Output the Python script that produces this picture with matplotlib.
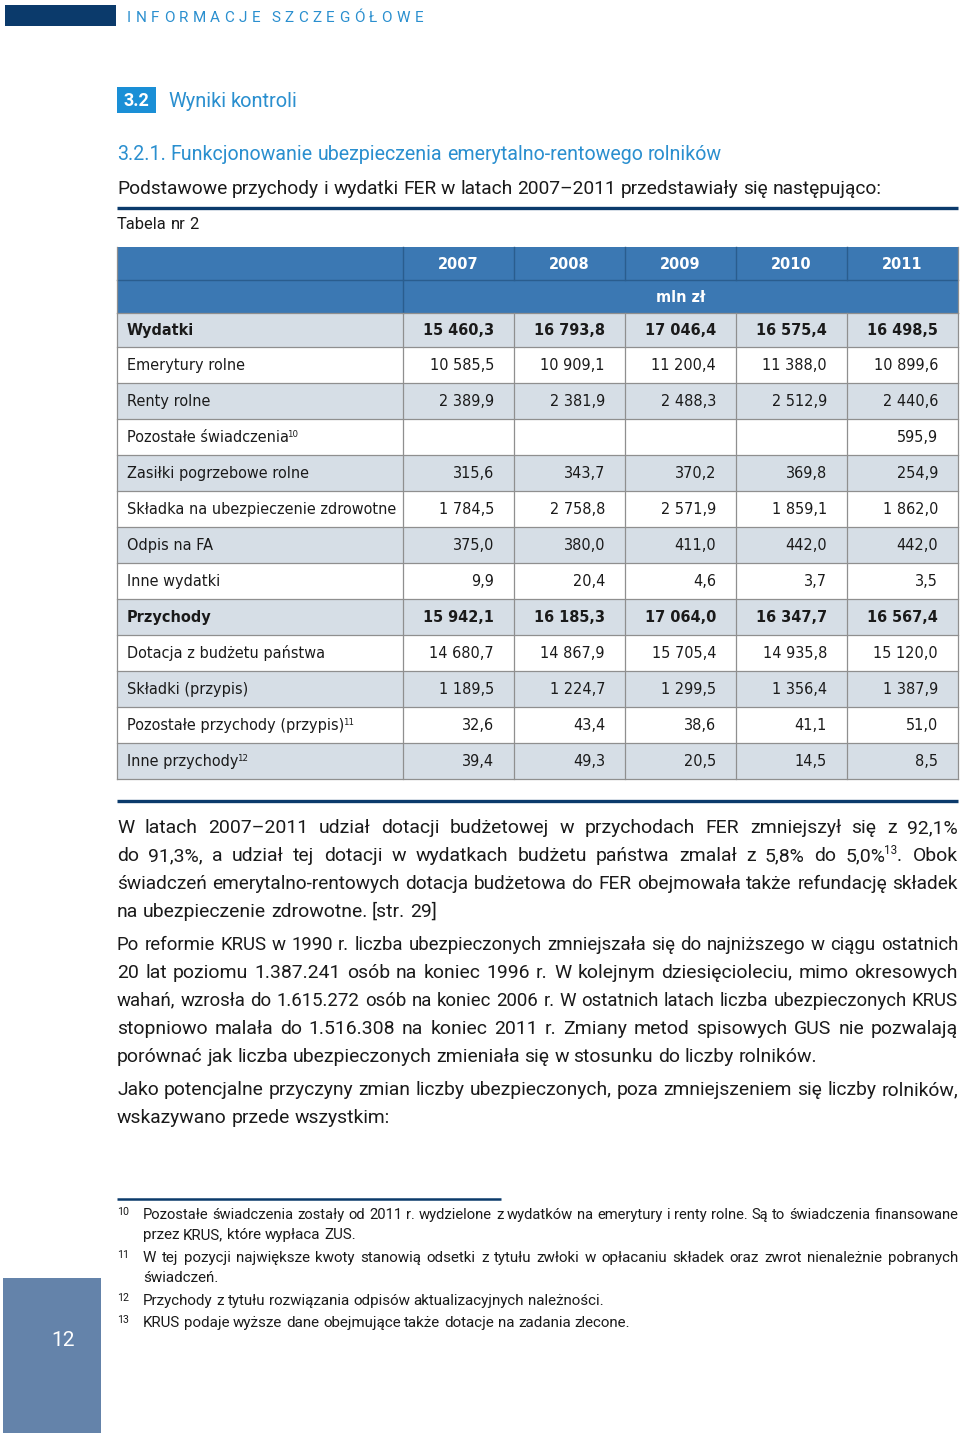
import matplotlib
matplotlib.use("Agg")
import matplotlib.pyplot as plt
from matplotlib.patches import Rectangle
import re

# ---------------- data ----------------
years = ["2007", "2008", "2009", "2010", "2011"]
unit_label = "mln zł"
row_labels = ["Wydatki", "Emerytury rolne", "Renty rolne", "Pozostałe świadczenia^{10}",
              "Zasiłki pogrzebowe rolne", "Składka na ubezpieczenie zdrowotne", "Odpis na FA",
              "Inne wydatki", "Przychody", "Dotacja z budżetu państwa", "Składki (przypis)",
              "Pozostałe przychody (przypis)^{11}", "Inne przychody^{12}"]
row_bold = [True, False, False, False, False, False, False, False, True, False, False, False, False]
wydatki = [15460.3, 16793.8, 17046.4, 16575.4, 16498.5]
emerytury_rolne = [10585.5, 10909.1, 11200.4, 11388.0, 10899.6]
renty_rolne = [2389.9, 2381.9, 2488.3, 2512.9, 2440.6]
pozostale_swiadczenia = [None, None, None, None, 595.9]
zasilki_pogrzebowe = [315.6, 343.7, 370.2, 369.8, 254.9]
skladka_zdrowotna = [1784.5, 2758.8, 2571.9, 1859.1, 1862.0]
odpis_fa = [375.0, 380.0, 411.0, 442.0, 442.0]
inne_wydatki = [9.9, 20.4, 4.6, 3.7, 3.5]
przychody = [15942.1, 16185.3, 17064.0, 16347.7, 16567.4]
dotacja = [14680.7, 14867.9, 15705.4, 14935.8, 15120.0]
skladki_przypis = [1189.5, 1224.7, 1299.5, 1356.4, 1387.9]
pozostale_przychody = [32.6, 43.4, 38.6, 41.1, 51.0]
inne_przychody = [39.4, 49.3, 20.5, 14.5, 8.5]
table_values = [wydatki, emerytury_rolne, renty_rolne, pozostale_swiadczenia, zasilki_pogrzebowe,
                skladka_zdrowotna, odpis_fa, inne_wydatki, przychody, dotacja, skladki_przypis,
                pozostale_przychody, inne_przychody]

header_tag = "INFORMACJE SZCZEGÓŁOWE"
section_no = "3.2"
section_title = "Wyniki kontroli"
subsection_title = "3.2.1. Funkcjonowanie ubezpieczenia emerytalno-rentowego rolników"
intro_line = "Podstawowe przychody i wydatki FER w latach 2007–2011 przedstawiały się następująco:"
table_caption = "Tabela nr 2"
paragraphs = [
    ["W latach 2007–2011 udział dotacji budżetowej w przychodach FER zmniejszył się z 92,1%",
     "do 91,3%, a udział tej dotacji w wydatkach budżetu państwa zmalał z 5,8% do 5,0%^{13}. Obok",
     "świadczeń emerytalno-rentowych dotacja budżetowa do FER obejmowała także refundację składek",
     "na ubezpieczenie zdrowotne. [str. 29]"],
    ["Po reformie KRUS w 1990 r. liczba ubezpieczonych zmniejszała się do najniższego w ciągu ostatnich",
     "20 lat poziomu 1.387.241 osób na koniec 1996 r. W kolejnym dziesięcioleciu, mimo okresowych",
     "wahań, wzrosła do 1.615.272 osób na koniec 2006 r. W ostatnich latach liczba ubezpieczonych KRUS",
     "stopniowo malała do 1.516.308 na koniec 2011 r. Zmiany metod spisowych GUS nie pozwalają",
     "porównać jak liczba ubezpieczonych zmieniała się w stosunku do liczby rolników."],
    ["Jako potencjalne przyczyny zmian liczby ubezpieczonych, poza zmniejszeniem się liczby rolników,",
     "wskazywano przede wszystkim:"],
]
footnote_nums = ["10", "11", "12", "13"]
footnotes = [
    ["Pozostałe świadczenia zostały od 2011 r. wydzielone z wydatków na emerytury i renty rolne. Są to świadczenia finansowane",
     "przez KRUS, które wypłaca ZUS."],
    ["W tej pozycji największe kwoty stanowią odsetki z tytułu zwłoki w opłacaniu składek oraz zwrot nienależnie pobranych",
     "świadczeń."],
    ["Przychody z tytułu rozwiązania odpisów aktualizacyjnych należności."],
    ["KRUS podaje wyższe dane obejmujące także dotacje na zadania zlecone."],
]
page_number = "12"

# ---------------- styles ----------------
NAVY = "#0b3a6b"
LIGHTBLUE = "#2a8fcf"
HEAD_BLUE = "#3b78b3"
ROW_GRAY = "#d6dee6"
GRID = "#8f8f8f"
TEXT = "#1a1a1a"
BODY_FONT = "Roboto"
TABLE_FONT = "DejaVu Sans"

W, H = 960, 1433
fig = plt.figure(figsize=(9.6, 14.33), dpi=100)
ax = fig.add_axes([0, 0, 1, 1])
ax.set_xlim(0, W)
ax.set_ylim(H, 0)
ax.axis("off")
renderer = fig.canvas.get_renderer()
PX = 100 / 72.0


def tw(s, size, family, weight="normal"):
    t = ax.text(0, 0, s, fontsize=size, family=family, weight=weight)
    w = t.get_window_extent(renderer).width
    t.remove()
    return w


def fit(s, target, family, weight="normal"):
    return 10.0 * target / tw(s, 10.0, family, weight)


def parse(word):
    parts = []
    for seg in re.split(r"(\^\{[^}]*\})", word):
        if not seg:
            continue
        if seg.startswith("^{"):
            parts.append((seg[2:-1], True))
        else:
            parts.append((seg, False))
    return parts


def plain(s):
    return re.sub(r"\^\{([^}]*)\}", r"\1", s)


def parts_width(parts, size, family, weight):
    return sum(tw(p, size * (0.6 if sup else 1.0), family, weight) for p, sup in parts)


def draw_parts(x, yb, parts, size, family, weight, color):
    for p, sup in parts:
        s = size * (0.6 if sup else 1.0)
        dy = -0.38 * size * PX if sup else 0
        xs = x - 1.5 if sup else x
        ax.text(xs, yb + dy, p, fontsize=s, family=family, weight=weight, color=color,
                ha="left", va="baseline")
        x += tw(p, s, family, weight) - (1.5 if sup else 0)
    return x


def draw_line(x0, x1, yc, line, size, family, color, justify, weight="normal"):
    yb = yc + 0.36 * size * PX
    words = [parse(w) for w in line.split(" ")]
    space = tw("a a", size, family, weight) - tw("aa", size, family, weight)
    widths = [parts_width(p, size, family, weight) for p in words]
    natural = sum(widths) + space * (len(words) - 1)
    if natural > (x1 - x0):
        size = size * (x1 - x0) / natural * 0.995
        return draw_line(x0, x1, yc, line, size, family, color, justify, weight)
    gap = (x1 - x0 - sum(widths)) / (len(words) - 1) if (justify and len(words) > 1) else space
    x = x0
    for p, w in zip(words, widths):
        draw_parts(x, yb, p, size, family, weight, color)
        x += w + gap


# ---------------- page header ----------------
ax.add_patch(Rectangle((5, 5), 111, 21, color=NAVY, lw=0))
hs = 11.0
chars = list(header_tag)
cw = [tw(c, hs, BODY_FONT) if c != " " else 0.6 * (tw("a a", hs, BODY_FONT) - tw("aa", hs, BODY_FONT))
      for c in chars]
track = (423 - 127 - sum(cw)) / (len(chars) - 1)
x = 127
for c, w in zip(chars, cw):
    ax.text(x, 16 + 0.36 * hs * PX, c, fontsize=hs, family=BODY_FONT, color=LIGHTBLUE,
            ha="left", va="baseline")
    x += w + track

ax.add_patch(Rectangle((117, 87), 39, 26, color="#1a8fd6", lw=0))
ax.text(136.5, 100.5, section_no, fontsize=13, family=BODY_FONT, weight="bold", color="white",
        ha="center", va="center")
s = fit(section_title, 130, BODY_FONT)
draw_line(168, 298, 100, section_title, s, BODY_FONT, LIGHTBLUE, False)

s = fit(subsection_title, 609, BODY_FONT)
draw_line(117, 726, 153, subsection_title, s, BODY_FONT, LIGHTBLUE, False)
s = fit(intro_line, 769, BODY_FONT)
draw_line(117, 886, 187, intro_line, s, BODY_FONT, TEXT, False)
ax.plot([117, 958], [207.5, 207.5], color=NAVY, lw=2.4, solid_capstyle="butt")
s = fit(table_caption, 82, BODY_FONT)
draw_line(117, 199, 223, table_caption, s, BODY_FONT, TEXT, False)

# ---------------- table ----------------
col_x = [117, 403, 514, 625, 736, 847, 958]
h_top, h_mid, h_bot = 247, 280, 313
first_h = 34
row_h = 36
n_rows = len(row_labels)
row_tops = [h_bot] + [h_bot + first_h + row_h * i for i in range(n_rows - 1)]
row_bots = row_tops[1:] + [row_tops[-1] + row_h]

tfs = fit("Składka na ubezpieczenie zdrowotne", 269, TABLE_FONT)

# header
ax.add_patch(Rectangle((col_x[0], h_top), col_x[-1] - col_x[0], h_bot - h_top, color=HEAD_BLUE, lw=0))
ax.plot([col_x[0], col_x[-1]], [h_mid, h_mid], color="#2a5d8e", lw=1)
for cx in col_x[1:-1]:
    ax.plot([cx, cx], [h_top, h_mid], color="#2a5d8e", lw=1)
ax.plot([col_x[1], col_x[1]], [h_mid, h_bot], color="#2a5d8e", lw=1)
for i, yr in enumerate(years):
    ax.text((col_x[i + 1] + col_x[i + 2]) / 2, (h_top + h_mid) / 2 + 0.36 * tfs * PX, yr,
            fontsize=tfs, family=TABLE_FONT, weight="bold", color="white", ha="center", va="baseline")
ax.text((col_x[1] + col_x[-1]) / 2, (h_mid + h_bot) / 2 + 0.36 * tfs * PX, unit_label,
        fontsize=tfs, family=TABLE_FONT, weight="bold", color="white", ha="center", va="baseline")


def fmt(v):
    if v is None:
        return ""
    return f"{v:,.1f}".replace(",", " ").replace(".", ",")


for r in range(n_rows):
    top, bot = row_tops[r], row_bots[r]
    bg = ROW_GRAY if r % 2 == 0 else "white"
    ax.add_patch(Rectangle((col_x[0], top), col_x[-1] - col_x[0], bot - top, color=bg, lw=0))
    yc = (top + bot) / 2
    wt = "bold" if row_bold[r] else "normal"
    draw_parts(127, yc + 0.36 * tfs * PX, parse(row_labels[r]), tfs, TABLE_FONT, wt, TEXT)
    for c, v in enumerate(table_values[r]):
        if v is None:
            continue
        ax.text(col_x[c + 2] - 20, yc + 0.36 * tfs * PX, fmt(v), fontsize=tfs, family=TABLE_FONT,
                weight=wt, color=TEXT, ha="right", va="baseline")

# grid
t_bot = row_bots[-1]
for yb in row_tops + [t_bot]:
    ax.plot([col_x[0], col_x[-1]], [yb, yb], color=GRID, lw=0.9)
for cx in col_x:
    ax.plot([cx, cx], [h_bot, t_bot], color=GRID, lw=0.9)
ax.plot([col_x[0], col_x[0]], [h_top, h_bot], color=GRID, lw=0.9)
ax.plot([col_x[-1], col_x[-1]], [h_top, h_bot], color=GRID, lw=0.9)

ax.plot([117, 958], [800.5, 800.5], color=NAVY, lw=2.4, solid_capstyle="butt")

# ---------------- body text ----------------
para_starts = [826, 943, 1088]
line_gap = 28
last_widths = [320, 699, 274]
for p, y0, lw_ in zip(paragraphs, para_starts, last_widths):
    size = fit(plain(p[-1]), lw_, BODY_FONT)
    for i, line in enumerate(p):
        draw_line(117, 958, y0 + i * line_gap, line, size, BODY_FONT, TEXT, i < len(p) - 1)

# ---------------- footnotes ----------------
ax.plot([117, 501], [1198.5, 1198.5], color=NAVY, lw=1.8, solid_capstyle="butt")
fn_size = fit(footnotes[2][0], 464, BODY_FONT)
fn_starts = [1214, 1257, 1300, 1322]
for num, fn, y0 in zip(footnote_nums, footnotes, fn_starts):
    ax.text(117, y0 - 2, num, fontsize=fn_size * 0.7, family=BODY_FONT, color=TEXT,
            ha="left", va="center")
    for i, line in enumerate(fn):
        draw_line(143, 958, y0 + i * 20, line, fn_size, BODY_FONT, TEXT, i < len(fn) - 1)

# ---------------- page number ----------------
ax.add_patch(Rectangle((3, 1278), 98, 160, color="#6483aa", lw=0))
ax.text(63, 1340, page_number, fontsize=15, family=BODY_FONT, color="white", ha="center", va="center")

fig.savefig("out.png", dpi=100, facecolor="white")
